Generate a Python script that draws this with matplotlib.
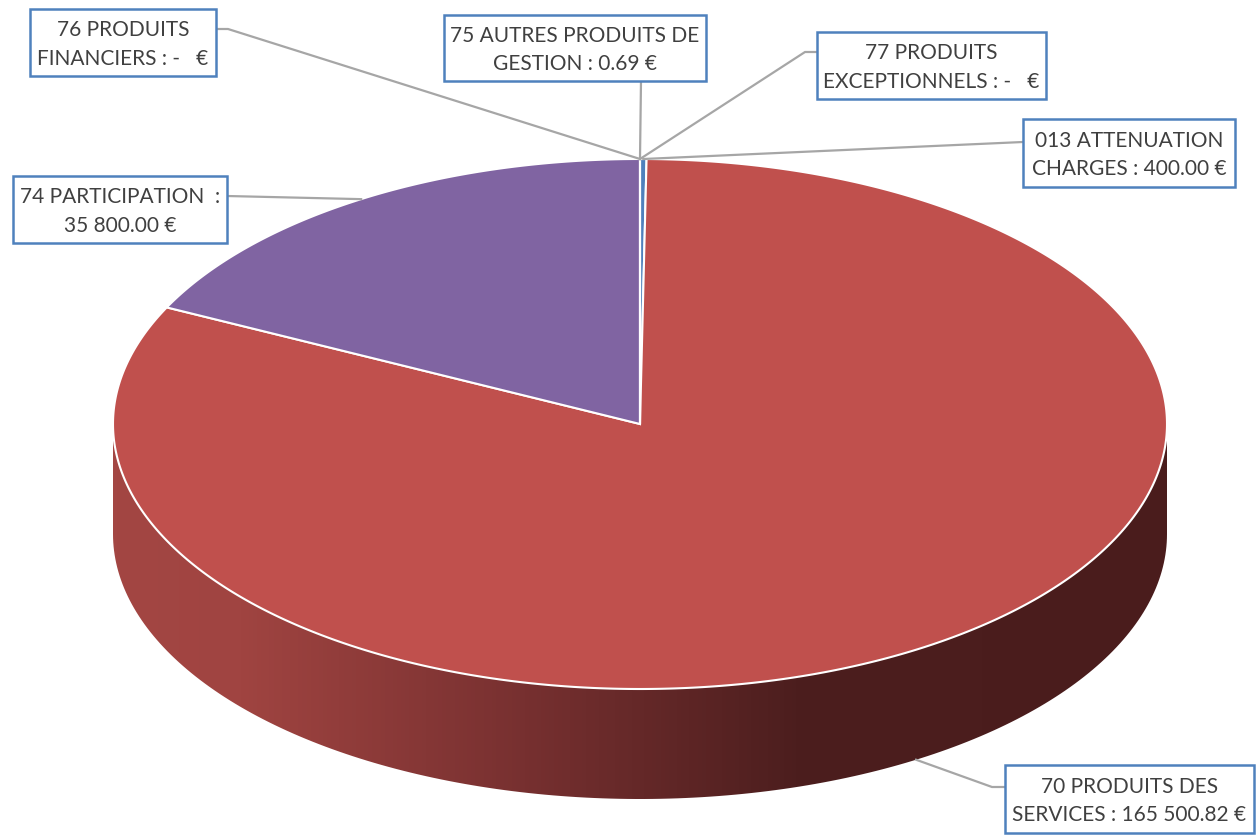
import numpy as np
import matplotlib.pyplot as plt
from matplotlib.patches import Polygon, Rectangle
from matplotlib.colors import LinearSegmentedColormap

# Data (recettes de fonctionnement)
categories = ["013 ATTENUATION\nCHARGES : 400.00 €",
              "70 PRODUITS DES\nSERVICES : 165 500.82 €",
              "74 PARTICIPATION  :\n35 800.00 €",
              "75 AUTRES PRODUITS DE\nGESTION : 0.69 €",
              "76 PRODUITS\nFINANCIERS : -   €",
              "77 PRODUITS\nEXCEPTIONNELS : -   €"]
values = [400.00, 165500.82, 35800.00, 0.69, 0.0, 0.0]
colors = ["#4F81BD", "#C0504D", "#8064A2", "#9BBB59", "#4BACC6", "#F79646"]

# label boxes (x0, y0, x1, y1) and where the leader line leaves the box
boxes = [(1023, 120, 1235, 188), (1005, 766, 1254, 834), (13, 177, 227, 244),
         (444, 16, 706, 82), (30, 10, 216, 77), (817, 33, 1046, 100)]
attach = [[(1023, 143)], [(1005, 788), (992, 788)], [(227, 197)],
          [(641, 82)], [(216, 30), (228, 30)], [(817, 53), (805, 53)]]

# pie geometry in pixels
cx, cy, rx, ry, depth = 640, 425, 527, 265, 110

fig = plt.figure(figsize=(12.59, 8.37), dpi=100)
ax = fig.add_axes([0, 0, 1, 1])
ax.set_xlim(0, 1259)
ax.set_ylim(837, 0)
ax.axis("off")


def ell(t, dy=0):
    t = np.radians(t)
    return cx + rx * np.cos(t), cy + dy - ry * np.sin(t)


total = sum(values)
ranges = []
b = 90.0
for v in values:
    a = b - v / total * 360
    ranges.append((a, b))
    b = a

side_cmap = LinearSegmentedColormap.from_list(
    "side", [(0, "#A34643"), (0.12, "#A04441"), (0.39, "#773030"),
             (0.65, "#4C1E1E"), (1, "#4A1C1C")])
grad = np.linspace(0, 1, 256).reshape(1, -1)

# sides (front half only)
for (a, b), c in zip(ranges, colors):
    if b - a <= 0:
        continue
    for k in (-360, 0, 360):
        lo, hi = max(a + k, -180), min(b + k, 0)
        if hi <= lo:
            continue
        t = np.linspace(lo, hi, 200)
        x1, y1 = ell(t)
        x2, y2 = ell(t[::-1], depth)
        pts = np.column_stack([np.r_[x1, x2], np.r_[y1, y2]])
        poly = Polygon(pts, closed=True, facecolor="none", edgecolor="none")
        ax.add_patch(poly)
        im = ax.imshow(grad, cmap=side_cmap, aspect="auto",
                       extent=(cx - rx, cx + rx, cy + ry + depth, cy - ry),
                       zorder=1)
        im.set_clip_path(poly)

# top face
for (a, b), c in zip(ranges, colors):
    if b - a <= 0:
        continue
    t = np.linspace(b, a, max(3, int((b - a) * 2)))
    x, y = ell(t)
    pts = np.column_stack([np.r_[cx, x], np.r_[cy, y]])
    ax.add_patch(Polygon(pts, closed=True, facecolor=c, edgecolor="white",
                         linewidth=1.5, zorder=2))

# leader lines + labels
for (a, b), lab, box, att in zip(ranges, categories, boxes, attach):
    m = (a + b) / 2
    if np.sin(np.radians(m)) >= 0:
        ax_, ay_ = ell(m)
    else:
        ax_, ay_ = ell(m, depth)
    xs = [p[0] for p in att] + [ax_]
    ys = [p[1] for p in att] + [ay_]
    ax.plot(xs, ys, color="#A6A6A6", linewidth=1.6, zorder=3)
    x0, y0, x1, y1 = box
    ax.add_patch(Rectangle((x0, y0), x1 - x0, y1 - y0, facecolor="white",
                           edgecolor="#4F81BD", linewidth=1.8, zorder=4))
    ax.text((x0 + x1) / 2, (y0 + y1) / 2 + 1, lab, ha="center", va="center",
            fontsize=15, family="Lato", color="#404040",
            linespacing=1.55, zorder=5)

fig.savefig("out.png", dpi=100)
